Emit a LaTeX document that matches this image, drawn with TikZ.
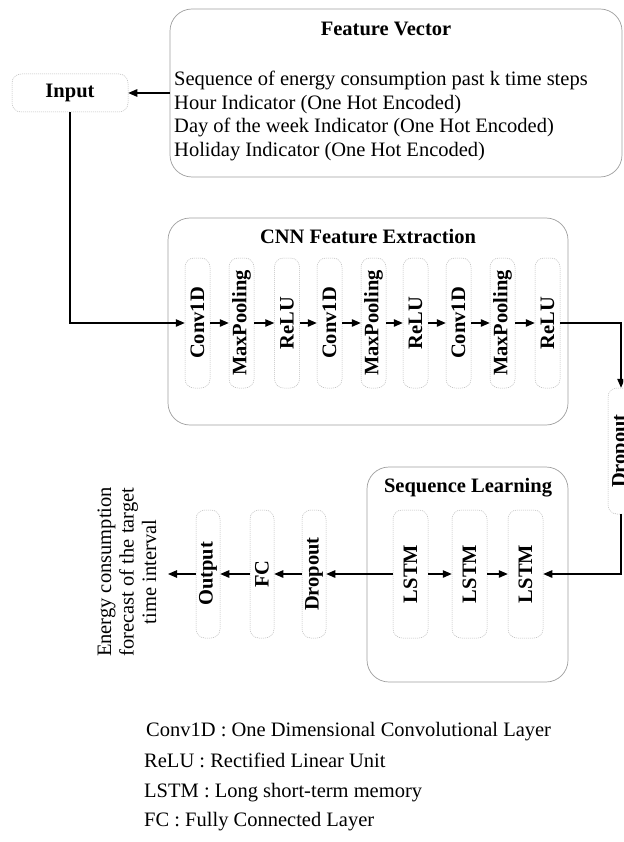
\documentclass[tikz,border=0pt]{standalone}
\usepackage{fontspec}
\setmainfont{Liberation Serif}
\usetikzlibrary{arrows.meta}
\newcommand{\fsz}{\fontsize{20.5}{23}\selectfont}
\begin{document}
\begin{tikzpicture}[x=1pt,y=-1pt,
  every node/.style={font=\fsz},
  layer/.style={draw=gray!55, line width=0.5pt, dash pattern=on 1pt off 1pt,
    rounded corners=9pt, minimum width=25pt, minimum height=130pt,
    inner sep=0pt, font=\bfseries\fsz},
  group/.style={draw=gray!75, line width=0.7pt, rounded corners=22pt, inner sep=0pt},
  ttl/.style={font=\bfseries\fsz},
  fline/.style={anchor=west, text height=14pt, text depth=4.5pt, inner sep=0pt},
  legend/.style={anchor=west, text height=14pt, text depth=4.5pt, inner sep=0pt},
  conn/.style={line width=1.1pt, -{Triangle[length=9pt,width=7.5pt]}},
]
\clip (0,0) rectangle (623,842);
\fill[white] (0,0) rectangle (623,842);

% Feature vector
\node[group, minimum width=452pt, minimum height=168pt] (fv) at (396,93) {};
\node[ttl] (fvt) at (386,29) {Feature Vector};
\node[fline] (fv1) at (174,81) {Sequence of energy consumption past k time steps};
\node[fline] (fv2) at (174,104.5) {Hour Indicator (One Hot Encoded)};
\node[fline] (fv3) at (174,128) {Day of the week Indicator (One Hot Encoded)};
\node[fline] (fv4) at (174,151.5) {Holiday Indicator (One Hot Encoded)};

% Input
\node[layer, minimum width=116pt, minimum height=38pt] (in) at (70,93) {Input};

% CNN
\node[group, minimum width=400pt, minimum height=207pt] (cnn) at (368,321.5) {};
\node[ttl] (cnnt) at (368,237) {CNN Feature Extraction};
\node[layer] (c1) at (197.5,323) {\rotatebox{90}{Conv1D}};
\node[layer] (m1) at (241.5,323) {\rotatebox{90}{MaxPooling}};
\node[layer] (r1) at (287,323) {\rotatebox{90}{ReLU}};
\node[layer] (c2) at (329.5,323) {\rotatebox{90}{Conv1D}};
\node[layer] (m2) at (373.5,323) {\rotatebox{90}{MaxPooling}};
\node[layer] (r2) at (415.5,323) {\rotatebox{90}{ReLU}};
\node[layer] (c3) at (458.5,323) {\rotatebox{90}{Conv1D}};
\node[layer] (m3) at (502.5,323) {\rotatebox{90}{MaxPooling}};
\node[layer] (r3) at (547.5,323) {\rotatebox{90}{ReLU}};

% right dropout
\node[layer, minimum width=26pt, minimum height=126pt] (dr) at (621,451) {\rotatebox{90}{Dropout}};

% Sequence learning
\node[group, minimum width=201pt, minimum height=215pt] (seq) at (467.5,574.5) {};
\node[ttl] (seqt) at (468,488) {Sequence Learning};
\node[layer, minimum width=35pt, minimum height=128pt] (l1) at (410.5,574) {\rotatebox{90}{LSTM}};
\node[layer, minimum width=35pt, minimum height=128pt] (l2) at (469.5,574) {\rotatebox{90}{LSTM}};
\node[layer, minimum width=35pt, minimum height=128pt] (l3) at (525.5,574) {\rotatebox{90}{LSTM}};

\node[layer, minimum width=24pt, minimum height=128pt] (d2) at (314,574) {\rotatebox{90}{Dropout}};
\node[layer, minimum width=24pt, minimum height=128pt] (fc) at (262,574) {\rotatebox{90}{FC}};
\node[layer, minimum width=24pt, minimum height=128pt] (out) at (208,574) {\rotatebox{90}{Output}};

\coordinate (tgt) at (168,574);
\node[inner sep=0pt] (fc_text) at (129,572) {\rotatebox{90}{\begin{tabular}{@{}c@{}}Energy consumption\\[-0.5pt]forecast of the target\\[-0.5pt]time interval\end{tabular}}};

% connectors
\draw[conn] (fv.west) -- (in.east);
\draw[conn] (in.south) |- (c1.west);
\draw[conn] (c1) -- (m1);
\draw[conn] (m1) -- (r1);
\draw[conn] (r1) -- (c2);
\draw[conn] (c2) -- (m2);
\draw[conn] (m2) -- (r2);
\draw[conn] (r2) -- (c3);
\draw[conn] (c3) -- (m3);
\draw[conn] (m3) -- (r3);
\draw[conn] (r3.east) -| (dr.north);
\draw[conn] (dr.south) |- (l3.east);
\draw[conn] (l1) -- (l2);
\draw[conn] (l2) -- (l3);
\draw[conn] (l1.west) -- (d2.east);
\draw[conn] (d2) -- (fc);
\draw[conn] (fc) -- (out);
\draw[conn] (out.west) -- (tgt);

% legend
\node[legend] (lg1) at (146,732) {Conv1D : One Dimensional Convolutional Layer};
\node[legend] (lg2) at (144,763) {ReLU : Rectified Linear Unit};
\node[legend] (lg3) at (144,793) {LSTM : Long short-term memory};
\node[legend] (lg4) at (144,822) {FC : Fully Connected Layer};
\end{tikzpicture}
\end{document}
